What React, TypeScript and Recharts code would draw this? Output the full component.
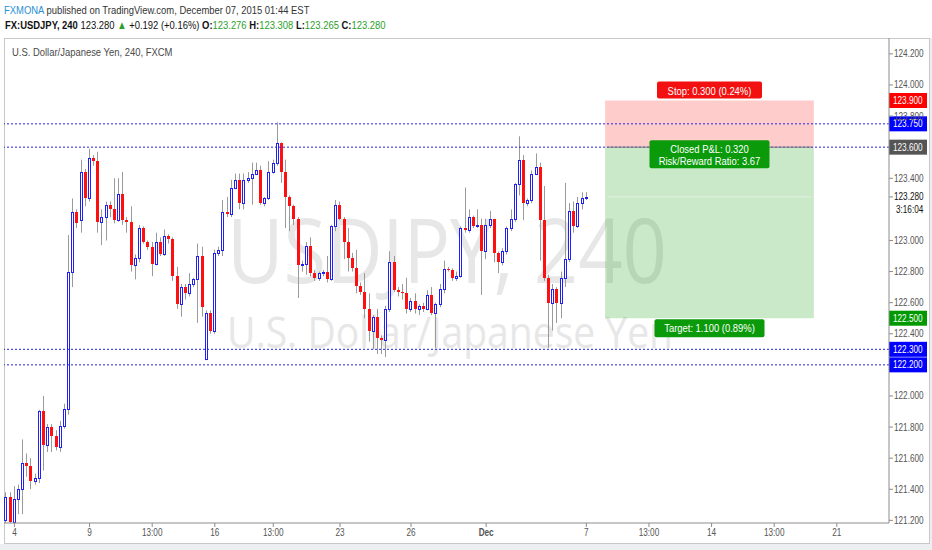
import React from "react";
import {
  Bar,
  ComposedChart,
  ReferenceArea,
  ReferenceLine,
  XAxis,
  YAxis,
} from "recharts";

// USDJPY 240 candles, Nov 4 -> Dec 7 2015
const opens = [
  121.20, 121.35, 121.19, 121.34, 121.40, 121.57, 121.55, 121.45, 121.47, 121.905,
  121.685, 121.80, 121.74, 121.67, 121.81, 121.914, 122.80, 123.18, 123.13, 123.44,
  123.27, 123.53, 123.51, 123.12, 123.15, 123.23, 123.20, 123.13, 123.30, 123.13,
  123.12, 122.84, 122.89, 123.08, 122.99, 122.96, 122.85, 122.99, 122.91, 123.03,
  123.01, 122.77, 122.59, 122.70, 122.66, 122.72, 122.75, 122.90, 122.24, 122.535,
  122.42, 122.92, 122.94, 123.18, 123.17, 123.34, 123.39, 123.24, 123.39, 123.40,
  123.43, 123.45, 123.24, 123.27, 123.44, 123.50, 123.625, 123.44, 123.28, 123.22,
  123.14, 122.84, 122.85, 122.965, 122.79, 122.76, 122.79, 122.80, 122.75, 123.09,
  123.23, 123.14, 122.99, 122.885, 122.82, 122.71, 122.67, 122.56, 122.42, 122.506,
  122.37, 122.36, 122.56, 122.86, 122.68, 122.67, 122.66, 122.56, 122.61, 122.56,
  122.58, 122.56, 122.65, 122.535, 122.59, 122.686, 122.815, 122.81, 122.76, 122.77,
  123.08, 123.07, 123.15, 123.095, 123.10, 122.93, 123.10, 123.14, 122.92, 122.86,
  122.93, 123.08, 123.135, 123.36, 123.52, 123.24, 123.26, 123.43, 123.47, 123.13,
  122.76, 122.60, 122.69, 122.60, 122.76, 122.88, 123.19, 123.09, 123.24, 123.27,
];
const highs = [
  121.38, 121.38, 121.42, 121.43, 121.72, 121.63, 121.60, 121.50, 121.91, 122.00,
  121.82, 121.82, 121.78, 121.84, 121.95, 123.035, 123.27, 123.20, 123.52, 123.46,
  123.59, 123.55, 123.57, 123.20, 123.25, 123.25, 123.40, 123.40, 123.44, 123.15,
  123.22, 122.91, 123.10, 123.09, 123.00, 122.99, 123.05, 123.02, 123.07, 123.04,
  123.02, 122.83, 122.72, 122.72, 122.79, 122.76, 122.98, 122.96, 122.55, 122.55,
  122.94, 122.96, 123.26, 123.28, 123.39, 123.43, 123.43, 123.43, 123.44, 123.50,
  123.50, 123.48, 123.28, 123.51, 123.52, 123.76, 123.63, 123.52, 123.29, 123.23,
  123.15, 122.87, 122.99, 123.02, 122.81, 122.80, 122.81, 122.90, 123.10, 123.26,
  123.25, 123.15, 123.08, 122.92, 122.94, 122.73, 122.79, 122.66, 122.52, 122.56,
  122.39, 122.58, 122.93, 122.90, 122.70, 122.72, 122.76, 122.63, 122.66, 122.59,
  122.60, 122.68, 122.70, 122.60, 122.72, 122.87, 122.83, 122.82, 122.80, 123.09,
  123.34, 123.20, 123.16, 123.20, 123.14, 123.14, 123.19, 123.14, 122.93, 122.95,
  123.09, 123.20, 123.37, 123.67, 123.55, 123.27, 123.45, 123.56, 123.50, 123.35,
  122.78, 122.72, 122.70, 122.80, 123.37, 123.24, 123.25, 123.28, 123.31, 123.31,
];
const lows = [
  121.18, 121.17, 121.17, 121.24, 121.24, 121.48, 121.40, 121.43, 121.44, 121.52,
  121.64, 121.64, 121.65, 121.64, 121.79, 121.88, 122.70, 123.08, 123.05, 123.22,
  123.25, 123.48, 123.05, 122.97, 123.00, 123.15, 123.11, 123.12, 123.10, 123.05,
  122.80, 122.75, 122.86, 122.98, 122.94, 122.77, 122.84, 122.90, 122.90, 122.98,
  122.74, 122.56, 122.51, 122.62, 122.64, 122.70, 122.47, 122.51, 122.23, 122.40,
  122.40, 122.90, 122.90, 123.15, 123.15, 123.33, 123.20, 123.20, 123.37, 123.23,
  123.42, 123.23, 123.22, 123.26, 123.43, 123.48, 123.37, 123.08, 123.06, 123.10,
  122.63, 122.80, 122.78, 122.77, 122.74, 122.74, 122.77, 122.73, 122.74, 123.06,
  123.13, 122.88, 122.80, 122.80, 122.66, 122.65, 122.50, 122.35, 122.30, 122.27,
  122.27, 122.25, 122.54, 122.67, 122.64, 122.62, 122.53, 122.54, 122.53, 122.52,
  122.54, 122.55, 122.52, 122.31, 122.57, 122.66, 122.80, 122.74, 122.74, 122.76,
  123.05, 123.05, 123.08, 123.08, 122.65, 122.88, 123.08, 122.86, 122.79, 122.84,
  122.91, 123.06, 123.12, 123.29, 123.13, 123.22, 123.24, 123.42, 122.87, 122.74,
  122.31, 122.42, 122.47, 122.50, 122.70, 122.86, 123.05, 123.08, 123.20, 123.26,
];
const closes = [
  121.35, 121.19, 121.34, 121.40, 121.57, 121.55, 121.45, 121.47, 121.905, 121.685,
  121.80, 121.74, 121.67, 121.81, 121.914, 122.80, 123.18, 123.11, 123.44, 123.27,
  123.53, 123.51, 123.12, 123.15, 123.23, 123.20, 123.13, 123.30, 123.13, 123.12,
  122.84, 122.89, 123.08, 122.99, 122.96, 122.85, 122.99, 122.91, 123.03, 123.01,
  122.77, 122.59, 122.70, 122.66, 122.72, 122.75, 122.90, 122.57, 122.535, 122.42,
  122.92, 122.94, 123.18, 123.17, 123.34, 123.39, 123.24, 123.39, 123.40, 123.43,
  123.45, 123.24, 123.27, 123.44, 123.50, 123.625, 123.44, 123.28, 123.22, 123.14,
  122.84, 122.85, 122.965, 122.79, 122.76, 122.79, 122.80, 122.75, 123.09, 123.23,
  123.14, 122.99, 122.885, 122.82, 122.71, 122.67, 122.56, 122.42, 122.506, 122.37,
  122.36, 122.56, 122.86, 122.68, 122.67, 122.66, 122.56, 122.61, 122.56, 122.58,
  122.56, 122.65, 122.535, 122.59, 122.686, 122.815, 122.81, 122.76, 122.77, 123.08,
  123.07, 123.15, 123.095, 123.10, 122.93, 123.10, 123.14, 122.92, 122.86, 122.93,
  123.08, 123.135, 123.36, 123.52, 123.24, 123.26, 123.43, 123.47, 123.13, 122.76,
  122.60, 122.69, 122.60, 122.76, 122.88, 123.19, 123.09, 123.24, 123.27, 123.28,
];

const SLOTS = 212; // candle slots incl. empty space to the right
const tickIdx = [2, 20, 35, 50, 64, 80, 97, 115, 139, 154, 169, 184, 199];
const tickText = ["4", "9", "13:00", "16", "13:00", "23", "26", "Dec", "7", "13:00", "14", "13:00", "21"];
const priceTicks = [121.2, 121.4, 121.6, 121.8, 122.0, 122.4, 122.6, 122.8, 123.0, 123.4, 123.8, 124.0, 124.2];
const dashedLevels = [123.75, 123.6, 122.3, 122.2];

const ENTRY = 123.6;
const STOP = 123.9;
const TARGET = 122.5;
const LAST = 123.28;
const BOX_FROM = 144;
const BOX_TO = 193;

const data = Array.from({ length: SLOTS }, (_, i) =>
  i < opens.length
    ? { i, range: [lows[i], highs[i]], o: opens[i], h: highs[i], l: lows[i], c: closes[i] }
    : { i, range: null }
);

const FONT = "'Liberation Sans', Arial, sans-serif";
const SQ = 0.82; // the screenshot's text is horizontally squeezed
const BLUE = "#2020f0";
const RED = "#ff1010";

// text squeezed horizontally around its anchor
function NText({ x, y, anchor = "start", size = 10, fill = "#555", weight = "normal", children }: any) {
  return (
    <text transform={`translate(${x},${y}) scale(${SQ},1)`} textAnchor={anchor} fontSize={size}
      fontFamily={FONT} fill={fill} fontWeight={weight}>
      {children}
    </text>
  );
}

function Candle(props: any) {
  const { x, y, width, height, payload } = props;
  if (!payload || payload.h == null) return null;
  const { o, h, l, c } = payload;
  const top = Math.min(y, y + height);
  const span = Math.abs(height);
  const py = (p: number) => (h === l ? top : top + ((h - p) / (h - l)) * span);
  const cx = Math.floor(x + width / 2);
  const bTop = Math.round(py(Math.max(o, c)));
  const bBot = Math.round(py(Math.min(o, c)));
  const up = c >= o;
  return (
    <g>
      <line x1={cx + 0.5} x2={cx + 0.5} y1={top} y2={top + span} stroke="#9a9a9a" />
      {up ? (
        <rect x={cx - 0.5} y={bTop + 0.5} width={2} height={Math.max(0, bBot - bTop)} fill="#fff" stroke={BLUE} />
      ) : (
        <rect x={cx - 1} y={bTop} width={3} height={Math.max(1, bBot - bTop)} fill={RED} />
      )}
    </g>
  );
}

function XTick(props: any) {
  const { x, y, payload } = props;
  const k = tickIdx.indexOf(payload.value);
  if (k < 0) return <g />;
  return (
    <g>
      <line x1={x} x2={x} y1={y} y2={y + 4} stroke="#8c8c8c" />
      <NText x={x} y={y + 13} anchor="middle" weight={tickText[k] === "Dec" ? "bold" : "normal"}>
        {tickText[k]}
      </NText>
    </g>
  );
}

function YTick(props: any) {
  const { x, y, payload } = props;
  return (
    <g>
      <line x1={x} x2={x + 4} y1={y} y2={y} stroke="#8c8c8c" />
      <NText x={x + 5} y={y + 3.5}>{payload.value.toFixed(3)}</NText>
    </g>
  );
}

const axisTag = (text: string, bg: string) => (props: any) => {
  const vb = props.viewBox || {};
  const x = vb.x + vb.width;
  const y = vb.y;
  return (
    <g>
      <rect x={x} y={y - 7.5} width={38} height={15} fill={bg} />
      <NText x={x + 4} y={y + 3.5} fill="#fff">{text}</NText>
    </g>
  );
};

const lastLabel = (props: any) => {
  const vb = props.viewBox || {};
  const x = vb.x + vb.width;
  const y = vb.y;
  return (
    <g>
      <line x1={x} x2={x + 4} y1={y} y2={y} stroke="#8c8c8c" />
      <NText x={x + 5} y={y + 3.5} fill="#111">{LAST.toFixed(3)}</NText>
      <NText x={x + 7} y={y + 16.5} fill="#111">3:16:04</NText>
    </g>
  );
};

function boxTag(lines: string[], w: number, h: number, dy: number, bg: string) {
  return (props: any) => {
    const vb = props.viewBox || {};
    const cx = vb.x + vb.width / 2;
    const top = dy < 0 ? vb.y + dy : dy === 0 ? vb.y - 7 : vb.y + vb.height + dy;
    return (
      <g>
        <rect x={cx - w / 2} y={top} width={w} height={h} rx={2} fill={bg} />
        {lines.map((t, k) => (
          <NText key={k} x={cx} y={top + 13 + k * 12} anchor="middle" size={11.5} fill="#fff">{t}</NText>
        ))}
      </g>
    );
  };
}

const lineStyle = (top: number, color: string): React.CSSProperties => ({
  position: "absolute", left: 4, top, font: `11.5px ${FONT}`, lineHeight: "14px", color,
  whiteSpace: "nowrap", transform: `scaleX(${SQ})`, transformOrigin: "0 0",
});

export default function App() {
  return (
    <div style={{ position: "absolute", left: 0, top: 0, width: 932, height: 550, background: "#fff", overflow: "hidden" }}>
      <div style={{ position: "absolute", left: 0, top: 544, width: 932, height: 6, background: "#eceef1" }} />
      <div style={{ position: "absolute", left: 930, top: 38, width: 2, height: 512, background: "#eceef1" }} />
      <div style={{ position: "absolute", left: 4, top: 38, width: 926, height: 506, border: "1px solid #c8c8c8", boxSizing: "border-box" }} />

      <div style={lineStyle(3, "#333")}>
        <span style={{ color: "#2a8fd4" }}>FXMONA</span> published on TradingView.com, December 07, 2015 01:44 EST
      </div>
      <div style={{ ...lineStyle(18, "#111"), left: 5 }}>
        <b>FX:USDJPY, 240</b> 123.280 <span style={{ color: "#2ca02c" }}>▲</span> +0.192 (+0.16%){" "}
        <b>O:</b><span style={{ color: "#2ca02c" }}>123.276</span>{" "}
        <b>H:</b><span style={{ color: "#2ca02c" }}>123.308</span>{" "}
        <b>L:</b><span style={{ color: "#2ca02c" }}>123.265</span>{" "}
        <b>C:</b><span style={{ color: "#2ca02c" }}>123.280</span>
      </div>

      <svg width={932} height={550} style={{ position: "absolute", left: 0, top: 0 }}>
        <text x={447} y={283} textAnchor="middle" fontFamily="'Open Sans', sans-serif" fontSize={90} fill="#e7e7e7"
          textLength={440} lengthAdjust="spacingAndGlyphs">USDJPY, 240</text>
        <text x={450} y={348} textAnchor="middle" fontFamily="'Open Sans', sans-serif" fontSize={43} fill="#e7e7e7"
          textLength={446} lengthAdjust="spacingAndGlyphs">U.S. Dollar/Japanese Yen</text>
      </svg>

      <div style={{ position: "absolute", left: 0, top: 0 }}>
        <ComposedChart width={932} height={550} data={data} margin={{ top: 38, right: 0, bottom: 0, left: 4 }}>
          <XAxis dataKey="i" type="category" interval={0} height={27} tickSize={0} tickMargin={0}
            tickLine={false} axisLine={{ stroke: "#8c8c8c" }} tick={<XTick />} />
          <YAxis orientation="right" type="number" domain={[121.183, 124.302]} allowDataOverflow ticks={priceTicks}
            width={43} tickSize={0} tickMargin={0} tickLine={false} axisLine={{ stroke: "#8c8c8c" }} tick={<YTick />} />

          <ReferenceArea x1={BOX_FROM} x2={BOX_TO} y1={ENTRY} y2={STOP} fill="#ff0000" fillOpacity={0.2} stroke="none"
            label={boxTag(["Stop: 0.300 (0.24%)"], 105, 17, -19, "#f21010")} />
          <ReferenceArea x1={BOX_FROM} x2={BOX_TO} y1={TARGET} y2={ENTRY} fill="#009600" fillOpacity={0.21} stroke="none"
            label={boxTag(["Target: 1.100 (0.89%)"], 110, 18, 1, "#0a9a0a")} />

          {dashedLevels.map((v) => (
            <ReferenceLine key={v} y={v} stroke="#2222e0" strokeDasharray="2 2"
              label={axisTag(v.toFixed(3), v === ENTRY ? "#555555" : "#0000ff")} />
          ))}
          <ReferenceLine segment={[{ x: BOX_FROM, y: ENTRY }, { x: BOX_TO, y: ENTRY }]} stroke="#7a7a7a" />
          <ReferenceLine segment={[{ x: BOX_FROM, y: LAST }, { x: BOX_TO, y: LAST }]} stroke="#e2f2e2" />
          <ReferenceLine y={STOP} stroke="none" label={axisTag(STOP.toFixed(3), "#ff0000")} />
          <ReferenceLine y={TARGET} stroke="none" label={axisTag(TARGET.toFixed(3), "#009900")} />
          <ReferenceLine y={LAST} stroke="none" label={lastLabel} />

          <Bar dataKey="range" shape={<Candle />} isAnimationActive={false} />

          <ReferenceLine segment={[{ x: BOX_FROM, y: ENTRY }, { x: BOX_TO, y: ENTRY }]} stroke="none"
            label={boxTag(["Closed P&L: 0.320", "Risk/Reward Ratio: 3.67"], 120, 28, 0, "#0a9a0a")} />
        </ComposedChart>
      </div>

      <div style={{ ...lineStyle(45, "#4a4a4a"), left: 12 }}>
        U.S. Dollar/Japanese Yen, 240, FXCM
      </div>
    </div>
  );
}
